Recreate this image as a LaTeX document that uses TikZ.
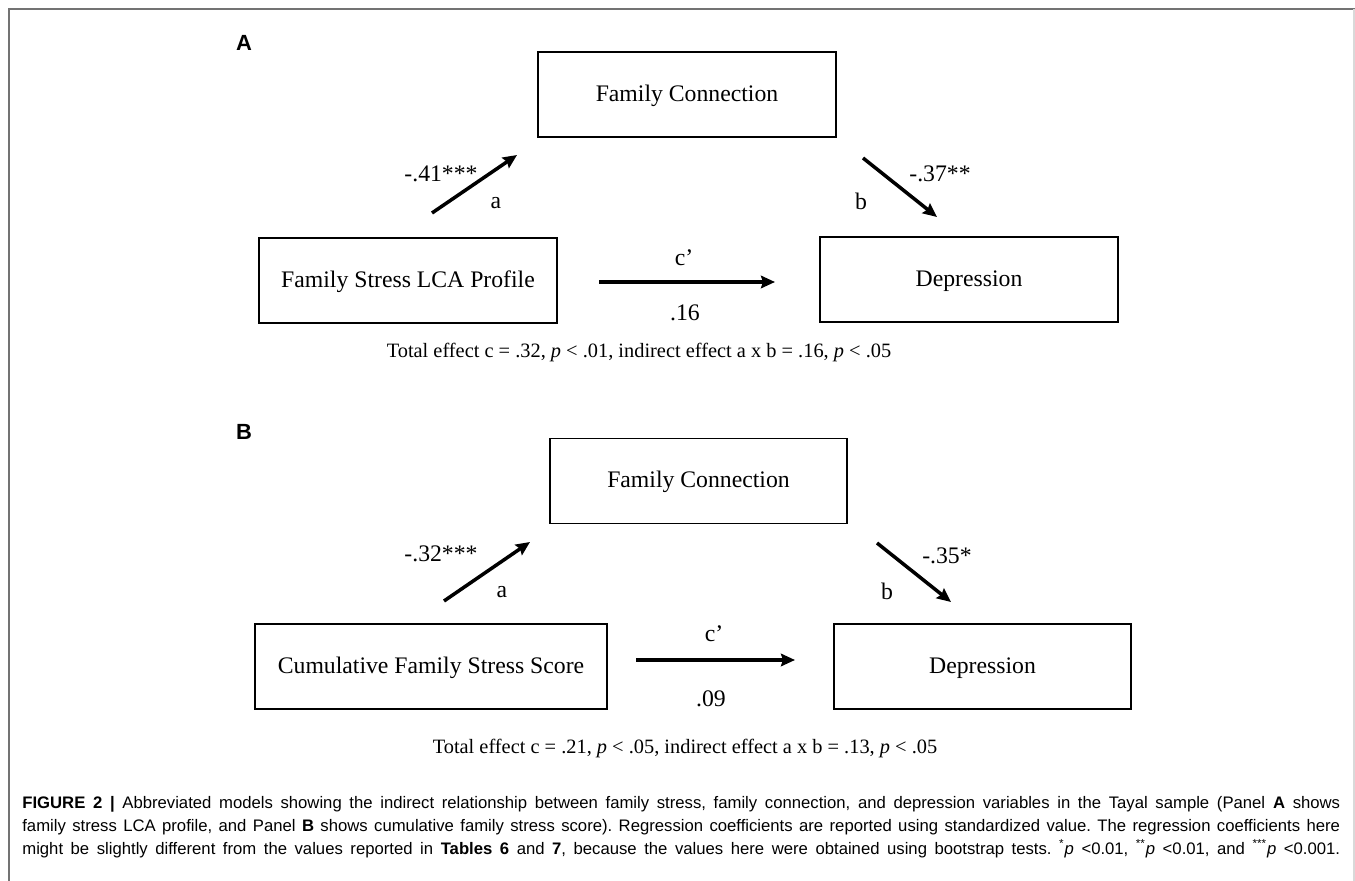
\documentclass[tikz,border=0pt]{standalone}
\usepackage{fontspec}
\setmainfont{Liberation Serif}
\setsansfont{Liberation Sans}
\usetikzlibrary{arrows.meta}
\tikzset{
  varbox/.style={draw=black, line width=0.9pt, minimum height=1.7cm, inner sep=0pt,
    text height=0.78em, text depth=0pt, font=\fontsize{13.5}{16}\selectfont},
  pathar/.style={line width=2pt, -{Stealth[length=0.28cm, width=0.25cm, inset=0.04cm]}},
  coef/.style={font=\fontsize{13.5}{16}\selectfont, inner sep=0pt},
  panel/.style={font=\sffamily\bfseries\fontsize{12.5}{15}\selectfont, inner sep=0pt},
  totfx/.style={font=\fontsize{11.6}{14}\selectfont, inner sep=0pt},
}
\begin{document}
\begin{tikzpicture}[x=0.02cm, y=-0.02cm]
\useasboundingbox (0,0) rectangle (1355,881);
% frame
\draw[line width=1.1pt, black!55] (9,881) -- (9,9) -- (1355,9);
\draw[line width=0.6pt, black!15] (1354,9) -- (1354,881);

% ---------- Panel A ----------
\node[panel] (labA) at (244,43) {A};
\node[varbox, minimum width=5.96cm] (fcA) at (687,94.5) {Family Connection};
\node[varbox, minimum width=5.96cm] (fsA) at (408,280.5) {Family Stress LCA Profile};
\node[varbox, minimum width=5.96cm] (depA) at (969,279.5) {Depression};

\coordinate (aAs) at (432,213);
\coordinate (aAe) at (517,155);
\coordinate (bAs) at (863,158);
\coordinate (bAe) at (937,217);
\coordinate (cAs) at (599,282);
\coordinate (cAe) at (775,282);
\draw[pathar] (aAs) -- (aAe);
\draw[pathar] (bAs) -- (bAe);
\draw[pathar] (cAs) -- (cAe);

\node[coef] (coefaA) at (441,174) {-.41***};
\node[coef] (labaA) at (496,203) {a};
\node[coef] (coefbA) at (940,174) {-.37**};
\node[coef] (labbA) at (861,201) {b};
\node[coef] (labcA) at (684,258) {c’};
\node[coef] (coefcA) at (685,313) {.16};
\node[totfx] (totA) at (639,352) {Total effect c = .32, \textit{p} < .01, indirect effect a x b = .16, \textit{p} < .05};

% ---------- Panel B ----------
\node[panel] (labB) at (244,432) {B};
\node[varbox, minimum width=5.94cm] (fcB) at (698.5,481) {Family Connection};
\node[varbox, minimum width=7.04cm] (cfB) at (431,666.5) {Cumulative Family Stress Score};
\node[varbox, minimum width=5.94cm] (depB) at (982.5,666.5) {Depression};

\coordinate (aBs) at (444,601);
\coordinate (aBe) at (530,542);
\coordinate (bBs) at (877,543);
\coordinate (bBe) at (951,602);
\coordinate (cBs) at (636,660);
\coordinate (cBe) at (795,660);
\draw[pathar] (aBs) -- (aBe);
\draw[pathar] (bBs) -- (bBe);
\draw[pathar] (cBs) -- (cBe);

\node[coef] (coefaB) at (441,554) {-.32***};
\node[coef] (labaB) at (502,592) {a};
\node[coef] (coefbB) at (947,556) {-.35*};
\node[coef] (labbB) at (887,591) {b};
\node[coef] (labcB) at (714,634) {c’};
\node[coef] (coefcB) at (711,699) {.09};
\node[totfx] (totB) at (685,748) {Total effect c = .21, \textit{p} < .05, indirect effect a x b = .13, \textit{p} < .05};

% ---------- Caption ----------
\node[anchor=north west, inner sep=0pt, font=\sffamily\fontsize{9.5}{13.1}\selectfont] (cap) at (22,796)
{\begin{minipage}{26.36cm}\frenchspacing\parfillskip=0pt\relax
\textbf{FIGURE 2} \textbf{|} Abbreviated models showing the indirect relationship between family stress, family connection, and depression variables in the Tayal sample (Panel \textbf{A} shows\linebreak
family stress LCA profile, and Panel \textbf{B} shows cumulative family stress score). Regression coefficients are reported using standardized value. The regression coefficients here\linebreak
might be slightly different from the values reported in \textbf{Tables 6} and \textbf{7}, because the values here were obtained using bootstrap tests. \textsuperscript{*}\textit{p} <0.01, \textsuperscript{**}\textit{p} <0.01, and \textsuperscript{***}\textit{p} <0.001.
\end{minipage}};
\end{tikzpicture}
\end{document}
